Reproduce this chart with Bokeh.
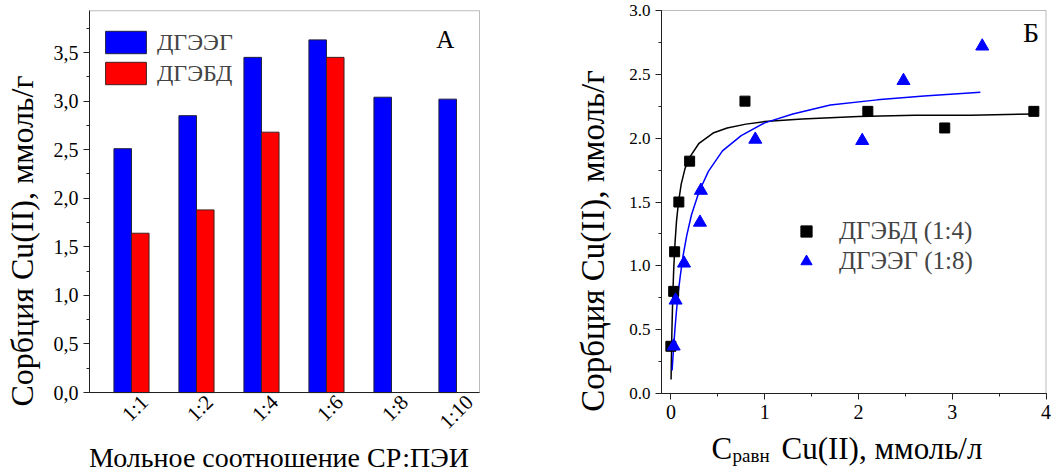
import math
from bokeh.plotting import figure
from bokeh.models import (FixedTicker, NumeralTickFormatter, CustomJSTickFormatter, Legend,
                          LegendItem, Label, Range1d, BoxAnnotation)
from bokeh.layouts import row
from bokeh.embed import file_html
from bokeh.resources import INLINE

SERIF = "Liberation Serif"

# ---------------- data: panel A (bars) ----------------
categories = ["1:1", "1:2", "1:4", "1:6", "1:8", "1:10"]
dgeeg_bars = [2.51, 2.85, 3.45, 3.63, 3.04, 3.02]   # blue
dgebd_bars = [1.64, 1.88, 2.68, 3.45]               # red (only first four ratios)
y_ticks_a = [0.0, 0.5, 1.0, 1.5, 2.0, 2.5, 3.0, 3.5]

# ---------------- data: panel Б (isotherms) ----------------
sq_x = [0.00, 0.03, 0.04, 0.085, 0.20, 0.79, 2.10, 2.92, 3.87]
sq_y = [0.37, 0.80, 1.11, 1.50, 1.82, 2.29, 2.21, 2.08, 2.21]
tri_x = [0.03, 0.05, 0.14, 0.31, 0.32, 0.90, 2.04, 2.48, 3.32]
tri_y = [0.37, 0.73, 1.02, 1.34, 1.59, 1.99, 1.98, 2.45, 2.72]

fit_black_x = [0.002, 0.005, 0.01, 0.02, 0.03, 0.045, 0.06, 0.08, 0.11, 0.15, 0.2, 0.3,
               0.45, 0.6, 0.8, 1.0, 1.4, 2.0, 2.6, 3.2, 3.9]
fit_black_y = [0.11, 0.25, 0.46, 0.76, 0.97, 1.19, 1.35, 1.49, 1.64, 1.76, 1.85, 1.96,
               2.04, 2.08, 2.11, 2.13, 2.15, 2.17, 2.18, 2.18, 2.19]
fit_blue_x = [0.013, 0.02, 0.03, 0.045, 0.06, 0.08, 0.1, 0.13, 0.17, 0.22, 0.3, 0.4,
              0.55, 0.75, 1.0, 1.3, 1.7, 2.2, 2.7, 3.3]
fit_blue_y = [0.18, 0.26, 0.37, 0.52, 0.65, 0.80, 0.92, 1.08, 1.24, 1.40, 1.58, 1.74,
              1.90, 2.02, 2.12, 2.19, 2.26, 2.30, 2.33, 2.36]
y_ticks_b = [0.0, 0.5, 1.0, 1.5, 2.0, 2.5, 3.0]
x_ticks_b = [0, 1, 2, 3, 4]

AX = "#222222"
TOP, FRAME_H = 8, 465   # frames run from the top border down to the bottom of the page


def style_axis(ax, size):
    ax.axis_line_color = AX
    ax.major_tick_line_color = AX
    ax.minor_tick_line_color = AX
    ax.major_tick_in = 0
    ax.major_tick_out = 6
    ax.minor_tick_in = 0
    ax.minor_tick_out = 3
    ax.major_label_text_font = SERIF
    ax.major_label_text_font_size = size
    ax.major_label_text_color = "black"
    ax.axis_label_text_font = SERIF
    ax.axis_label_text_font_style = "normal"
    ax.axis_label_text_color = "black"


# ================= Panel A =================
a_x0, a_x1 = 0.354, 6.354          # plotted box in x
a_y1 = 3.93                        # plotted box top
p1 = figure(frame_width=392, frame_height=FRAME_H,
            x_range=Range1d(a_x0, 6.385), y_range=Range1d(-0.833, 3.953),
            output_backend="svg", toolbar_location=None,
            min_border_left=88, min_border_right=80, min_border_top=TOP, min_border_bottom=0)
p1.grid.visible = False
p1.outline_line_color = None
p1.add_layout(BoxAnnotation(left=a_x0, right=a_x1, bottom=0, top=a_y1,
                            fill_alpha=0, line_color=AX, line_width=1))

bw = 0.27
xs_blue = [i + 1 - bw / 2 for i in range(len(categories))]
xs_red = [i + 1 + bw / 2 for i in range(len(dgebd_bars))]
r_blue = p1.vbar(x=xs_blue, top=dgeeg_bars, bottom=0, width=bw,
                 fill_color="#0000FF", line_color="#202040", line_width=1)
r_red = p1.vbar(x=xs_red, top=dgebd_bars, bottom=0, width=bw,
                fill_color="#FF0000", line_color="#402020", line_width=1)

ya = p1.yaxis[0]
style_axis(ya, "20px")
ya.bounds = (0, a_y1)
ya.ticker = FixedTicker(ticks=y_ticks_a, minor_ticks=[0.25 * k for k in range(16)])
ya.formatter = CustomJSTickFormatter(code="return tick.toFixed(1).replace('.', ',');")
ya.axis_label = "Сорбция Cu(II), ммоль/г"
ya.axis_label_text_font_size = "32px"
ya.axis_label_standoff = 11

# category ticks shifted slightly so the rotated (right-aligned) labels sit centred
lab_shift = 0.2
xa = p1.xaxis[0]
style_axis(xa, "21px")
xa.fixed_location = 0
xa.bounds = (a_x0, a_x1)
xa.ticker = FixedTicker(ticks=[i + 1 + lab_shift for i in range(len(categories))], minor_ticks=[])
xa.formatter = CustomJSTickFormatter(args=dict(labels=categories),
                                     code="return labels[Math.round(tick) - 1];")
xa.major_tick_line_color = None
xa.minor_tick_line_color = None
xa.major_tick_out = 0
xa.major_label_orientation = math.pi / 4
xa.major_label_standoff = 6

p1.add_layout(Label(x=3.27, y=-0.665, text="Мольное соотношение СР:ПЭИ",
                    text_font=SERIF, text_font_size="28px", text_align="center",
                    text_baseline="alphabetic", text_color="black"))
p1.add_layout(Label(x=5.69, y=3.635, text="А", text_font=SERIF, text_font_size="25px",
                    text_baseline="alphabetic", text_color="black"))

leg1 = Legend(items=[LegendItem(label="ДГЭЭГ", renderers=[r_blue]),
                     LegendItem(label="ДГЭБД", renderers=[r_red])],
              location=(11, 386), glyph_width=51, glyph_height=28, spacing=3,
              padding=0, margin=0, border_line_color=None, background_fill_alpha=0,
              label_text_font=SERIF, label_text_font_size="24px", label_standoff=6,
              label_height=28)
p1.add_layout(leg1)

# ================= Panel Б =================
b_x0, b_x1, b_y1 = -0.1, 4.0, 3.0
p2 = figure(frame_width=391, frame_height=FRAME_H,
            x_range=Range1d(b_x0, 4.069), y_range=Range1d(-0.6266, 3.0157),
            output_backend="svg", toolbar_location=None,
            min_border_left=100, min_border_right=0, min_border_top=TOP, min_border_bottom=0)
p2.grid.visible = False
p2.outline_line_color = None
p2.add_layout(BoxAnnotation(left=b_x0, right=b_x1, bottom=0, top=b_y1,
                            fill_alpha=0, line_color=AX, line_width=1))

p2.line(fit_black_x, fit_black_y, line_color="black", line_width=1.5)
p2.line(fit_blue_x, fit_blue_y, line_color="#0000FF", line_width=1.5)
r_sq = p2.scatter(sq_x, sq_y, marker="square", size=10, fill_color="black", line_color="black")
r_tri = p2.scatter(tri_x, tri_y, marker="triangle", size=13, fill_color="#0000FF", line_color="#0000FF")

ya2 = p2.yaxis[0]
style_axis(ya2, "17px")
ya2.bounds = (0, b_y1)
ya2.ticker = FixedTicker(ticks=y_ticks_b, minor_ticks=[0.25 * k for k in range(13)])
ya2.formatter = NumeralTickFormatter(format="0.0")
ya2.axis_label = "Сорбция Cu(II), ммоль/г"
ya2.axis_label_text_font_size = "33px"
ya2.axis_label_standoff = 15

xa2 = p2.xaxis[0]
style_axis(xa2, "20px")
xa2.fixed_location = 0
xa2.bounds = (b_x0, b_x1)
xa2.ticker = FixedTicker(ticks=x_ticks_b, minor_ticks=[0.5 * k for k in range(9)])

p2.add_layout(Label(x=3.755, y=2.83, text="Б", text_font=SERIF, text_font_size="28px",
                    text_baseline="alphabetic", text_color="black"))

leg2 = Legend(items=[LegendItem(label="ДГЭБД (1:4)", renderers=[r_sq]),
                     LegendItem(label="ДГЭЭГ (1:8)", renderers=[r_tri])],
              location=(131, 198), glyph_width=28, glyph_height=28, spacing=2,
              padding=0, margin=0, border_line_color=None, background_fill_alpha=0,
              label_text_font=SERIF, label_text_font_size="25px", label_standoff=19,
              label_height=28)
p2.add_layout(leg2)

# x-axis title with a subscript
p2.add_layout(Label(x=0.433, y=-0.431, text="C", text_font=SERIF, text_font_size="31px",
                    text_baseline="alphabetic", text_color="black"))
p2.add_layout(Label(x=0.657, y=-0.486, text="равн", text_font=SERIF, text_font_size="19px",
                    text_baseline="alphabetic", text_color="black"))
p2.add_layout(Label(x=1.179, y=-0.431, text="Cu(II), ммоль/л", text_font=SERIF,
                    text_font_size="31px", text_baseline="alphabetic", text_color="black"))

layout = row(p1, p2, spacing=0)
open("out.html", "w").write(file_html(layout, INLINE))
